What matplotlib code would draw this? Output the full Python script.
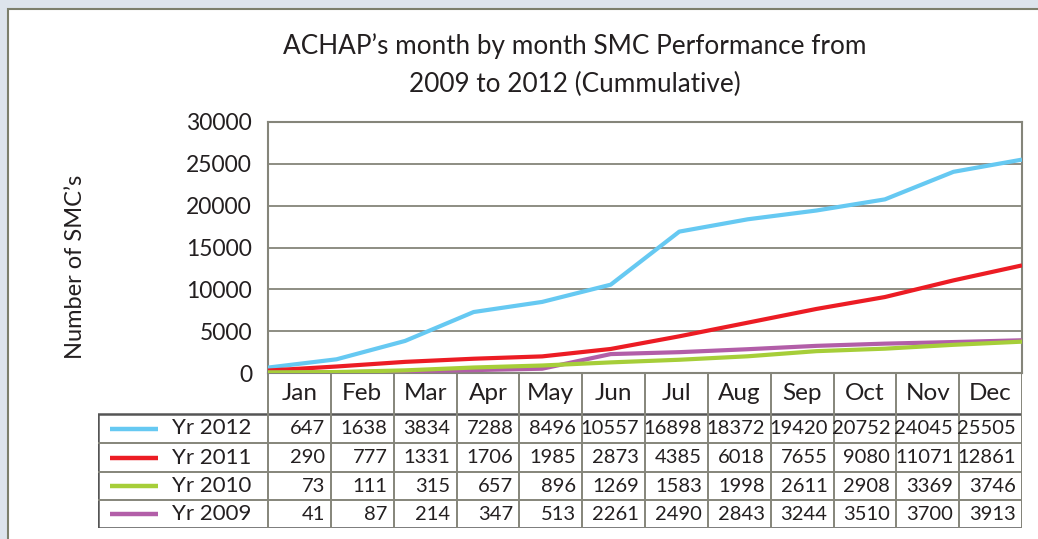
import matplotlib.pyplot as plt
from matplotlib.patches import Rectangle

plt.rcParams['font.family'] = ['Lato', 'DejaVu Sans']

# data
months = ["Jan", "Feb", "Mar", "Apr", "May", "Jun", "Jul", "Aug", "Sep", "Oct", "Nov", "Dec"]
yr2012 = [647, 1638, 3834, 7288, 8496, 10557, 16898, 18372, 19420, 20752, 24045, 25505]
yr2011 = [290, 777, 1331, 1706, 1985, 2873, 4385, 6018, 7655, 9080, 11071, 12861]
yr2010 = [73, 111, 315, 657, 896, 1269, 1583, 1998, 2611, 2908, 3369, 3746]
yr2009 = [41, 87, 214, 347, 513, 2261, 2490, 2843, 3244, 3510, 3700, 3913]
names = ["Yr 2012", "Yr 2011", "Yr 2010", "Yr 2009"]
series = [yr2012, yr2011, yr2010, yr2009]
colours = ["#66c9f2", "#ec1c24", "#a6ce39", "#b25ea8"]
y_ticks = [0, 5000, 10000, 15000, 20000, 25000, 30000]

W, H = 1038, 539
fig = plt.figure(figsize=(W / 100, H / 100), dpi=100)
fig.patch.set_facecolor("#dde4ec")

# white panel behind everything
fig.patches.append(Rectangle((8 / W, -0.1), 1.2, (H - 9) / H + 0.1, transform=fig.transFigure,
                             facecolor="white", edgecolor="#7c7f6c", lw=1.5, zorder=-10))

grid_col = "#85857a"
txt_col = "#231f20"

# line chart
left, right, top, bottom = 268, 1022, 122, 373
ax = fig.add_axes([left / W, (H - bottom) / H, (right - left) / W, (bottom - top) / H])
ax.patch.set_alpha(0)
x = list(range(len(months)))
for i in [0, 1, 3, 2]:
    ax.plot(x, series[i], color=colours[i], lw=3, solid_capstyle="butt", zorder=3)
ax.set_xlim(0, len(months) - 1)
ax.set_ylim(0, 30000)
ax.set_yticks(y_ticks)
ax.set_yticklabels([str(v) for v in y_ticks], fontsize=16.5, color=txt_col)
ax.tick_params(axis="y", length=0, pad=11.5)
ax.set_xticks([])
ax.grid(axis="y", color=grid_col, lw=1.3)
for s in ax.spines.values():
    s.set_color(grid_col)
    s.set_linewidth(1.5)

# data table below the chart
tab = fig.add_axes([98 / W, (H - 528) / H, (1022 - 98) / W, (528 - 373) / H])
tab.set_xlim(98, 1022)
tab.set_ylim(528, 373)
tab.axis("off")
cw = (right - left) / len(months)
row_edges = [414, 443, 472, 500, 528]

for j in range(len(months) + 1):
    xe = left + j * cw
    tab.plot([xe, xe], [373, 528], color=grid_col, lw=1.4)
for ye in row_edges[1:-1]:
    tab.plot([98, 1022], [ye, ye], color=grid_col, lw=1.4)
tab.add_patch(Rectangle((98, 414), 1022 - 98, 528 - 414, fill=False, edgecolor="#555555", lw=1.8))

for j, m in enumerate(months):
    tab.text(left + (j + 0.5) * cw, 394, m, ha="center", va="center", fontsize=17.5, color=txt_col)

for i, name in enumerate(names):
    yc = (row_edges[i] + row_edges[i + 1]) / 2
    tab.plot([110, 158], [yc, yc], color=colours[i], lw=3.2, solid_capstyle="butt")
    tab.text(172, yc, name, ha="left", va="center", fontsize=16, color=txt_col)
    for j, v in enumerate(series[i]):
        tab.text(left + (j + 1) * cw - 6, yc, str(v), ha="right", va="center", fontsize=14.5, color=txt_col)

fig.text(575 / W, 1 - 46 / H, "ACHAP\u2019s month by month SMC Performance from", ha="center", va="center",
         fontsize=18.8, color=txt_col)
fig.text(575 / W, 1 - 84 / H, "2009 to 2012 (Cummulative)", ha="center", va="center",
         fontsize=18.8, color=txt_col)
fig.text(76 / W, 1 - 267 / H, "Number of SMC\u2019s", rotation=90, ha="center", va="center",
         fontsize=17, color=txt_col)

fig.savefig("out.png", dpi=100, facecolor=fig.get_facecolor())
